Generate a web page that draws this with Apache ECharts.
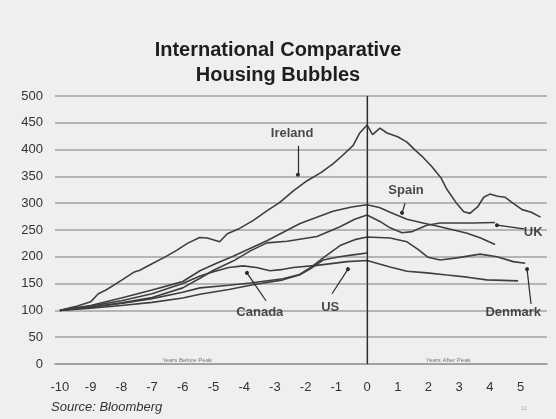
<!DOCTYPE html>
<html>
<head>
<meta charset="utf-8">
<script src="https://cdn.jsdelivr.net/npm/echarts@6/dist/echarts.min.js"></script>
<style>
  html, body { margin: 0; padding: 0; background: #efefef; }
  #chart { width: 556px; height: 419px; }
</style>
</head>
<body>
<div id="chart"></div>
<script>
// House price index, 100 = ten years before each country's peak. Pairs are [years from peak, index].
const ireland = [[-10,100],[-9.5,107],[-9,116],[-8.75,131],[-8.5,138],[-8,156],[-7.6,171],[-7.4,175],[-7,187],[-6.6,199],[-6.2,212],[-5.85,225],[-5.45,236],[-5.2,235],[-4.8,228],[-4.55,243],[-4.15,253],[-3.7,268],[-3.25,286],[-2.85,301],[-2.4,323],[-1.95,342],[-1.5,357],[-1.1,374],[-0.8,389],[-0.45,408],[-0.25,430],[0,446],[0.18,428],[0.42,440],[0.65,431],[1,424],[1.3,414],[1.55,400],[1.8,387],[2.1,369],[2.4,348],[2.6,326],[2.9,301],[3.15,284],[3.35,281],[3.6,293],[3.8,311],[4,317],[4.25,313],[4.5,311],[4.75,300],[5.05,288],[5.35,283],[5.65,274]];
const spain = [[-10,100],[-9,109],[-8,123],[-7,138],[-6.3,149],[-6,154],[-5.44,174],[-4.9,188],[-4.36,201],[-3.26,230],[-2.18,262],[-1.11,285],[-0.5,293],[0,297],[0.4,292],[0.75,283],[1.3,270],[1.82,263],[2.38,256],[3.26,244],[3.7,235],[4.17,223]];
const uk = [[-10,100],[-9,106],[-8,114],[-7,124],[-6,142],[-5.44,160],[-5,175],[-4.36,192],[-3.8,211],[-3.26,226],[-2.6,229],[-1.63,238],[-0.88,256],[-0.4,270],[0,278],[0.42,266],[0.75,254],[1.14,245],[1.47,247],[1.95,259],[2.38,263],[3.45,263],[4.17,264]];
const us = [[-10,100],[-9,104],[-8,109],[-7,115],[-6,123],[-5.44,130],[-4.5,139],[-3.8,147],[-2.74,157],[-2.2,166],[-1.86,177],[-1.43,194],[-0.9,200],[-0.4,204],[0,207]];
const canada = [[-10,100],[-9,108],[-8,118],[-7,131],[-6,150],[-5.44,164],[-5,172],[-4.5,180],[-4.04,183],[-3.6,180],[-3.16,174],[-2.8,176],[-2.41,180],[-1.63,184],[-0.65,191],[0,193],[0.75,181],[1.3,173],[1.95,170],[2.6,166],[3.26,162],[3.9,157],[4.92,155]];
const denmark = [[-10,100],[-9,106],[-8,113],[-7,122],[-6,134],[-5.44,142],[-4.5,147],[-3.8,151],[-2.74,159],[-2.2,167],[-1.86,179],[-1.43,198],[-0.88,221],[-0.4,232],[0,237],[0.75,235],[1.3,228],[1.66,214],[1.99,199],[2.38,194],[2.93,198],[3.68,205],[4.23,200],[4.76,191],[5.15,188]];

const yTicks = [0, 50, 100, 150, 200, 250, 300, 350, 400, 450, 500];
const xTicks = [-10, -9, -8, -7, -6, -5, -4, -3, -2, -1, 0, 1, 2, 3, 4, 5];

// Country name tags and the pointer lines leading to their curves
const tagNames = ['Ireland', 'Canada', 'US', 'Spain', 'UK', 'Denmark'];
const tagPos = [[-2.44, 431], [-3.49, 97], [-1.2, 106], [1.27, 323], [5.41, 246], [4.76, 97]];
const pointerFrom = [[-2.25, 407], [-3.29, 118], [-1.14, 131], [1.24, 300], [5.11, 252], [5.34, 112]];
const pointerTo = [[-2.25, 353], [-3.91, 170], [-0.62, 177], [1.14, 282], [4.23, 259], [5.21, 177]];

// Small captions sitting on the horizontal axis
const sideNotes = ['Years Before Peak', 'Years After Peak'];
const sideNotePos = [[-5.86, 6], [2.64, 6]];

const lineColor = '#3f3f3f';
const countryLine = (name, data) => ({
  name, type: 'line', data, showSymbol: false, smooth: false,
  lineStyle: { color: lineColor, width: 1.6 }, z: 3
});

const chart = echarts.init(document.getElementById('chart'), null, { renderer: 'canvas' });
chart.setOption({
  animation: false,
  backgroundColor: '#efefef',
  title: {
    text: 'International Comparative\nHousing Bubbles',
    left: 'center', top: 33,
    textStyle: { fontFamily: 'Liberation Sans', fontSize: 20, fontWeight: 'bold', color: '#1e1e1e', lineHeight: 25 }
  },
  grid: { left: 55, right: 9, top: 96, bottom: 55 },
  xAxis: {
    type: 'value', min: -10.16, max: 5.86,
    axisLine: { show: true, onZero: false, lineStyle: { color: '#9a9a9a', width: 1.5 } },
    axisTick: { show: false },
    splitLine: { show: false },
    axisLabel: {
      customValues: xTicks, margin: 17,
      fontFamily: 'Liberation Sans', fontSize: 13, color: '#333'
    }
  },
  yAxis: {
    type: 'value', min: 0, max: 500, interval: 50,
    axisLine: { show: true, lineStyle: { color: '#9a9a9a', width: 1.5 } },
    axisTick: { show: false },
    splitLine: { show: true, lineStyle: { color: '#a2a2a2', width: 1.5 } },
    axisLabel: {
      customValues: yTicks, margin: 12,
      fontFamily: 'Liberation Sans', fontSize: 13, color: '#333'
    }
  },
  series: [
    countryLine('Ireland', ireland),
    countryLine('Spain', spain),
    countryLine('UK', uk),
    countryLine('US', us),
    countryLine('Canada', canada),
    countryLine('Denmark', denmark),
    {
      name: 'peak', type: 'line', data: [],
      markLine: {
        silent: true, animation: false,
        label: { show: false },
        data: [
          [{ xAxis: 0, yAxis: 0, symbol: 'none' }, { xAxis: 0, yAxis: 500, symbol: 'none' }],
          ...pointerFrom.map((p, i) => [
            { coord: p, symbol: 'none' },
            { coord: pointerTo[i], symbol: 'circle', symbolSize: 4 }
          ])
        ],
        lineStyle: { color: '#2a2a2a', width: 1.2, type: 'solid' }
      }
    },
    {
      name: 'tags', type: 'scatter', symbolSize: 0, z: 5,
      data: tagNames.map((n, i) => ({ name: n, value: tagPos[i] })),
      label: {
        show: true, position: 'inside', formatter: '{b}',
        fontFamily: 'Liberation Sans', fontSize: 13, fontWeight: 'bold', color: '#1e1e1e'
      }
    },
    {
      name: 'notes', type: 'scatter', symbolSize: 0, z: 5,
      data: sideNotes.map((n, i) => ({ name: n, value: sideNotePos[i] })),
      label: {
        show: true, position: 'inside', formatter: '{b}',
        fontFamily: 'Liberation Sans', fontSize: 6, color: '#555'
      }
    }
  ],
  graphic: [
    {
      type: 'text', left: 51, top: 401,
      style: { text: 'Source: Bloomberg', font: 'italic 13px "Liberation Sans"', fill: '#333' }
    },
    {
      type: 'text', left: 521, top: 405,
      style: { text: '11', font: '6px "Liberation Sans"', fill: '#aaa' }
    }
  ]
});
</script>
</body>
</html>
